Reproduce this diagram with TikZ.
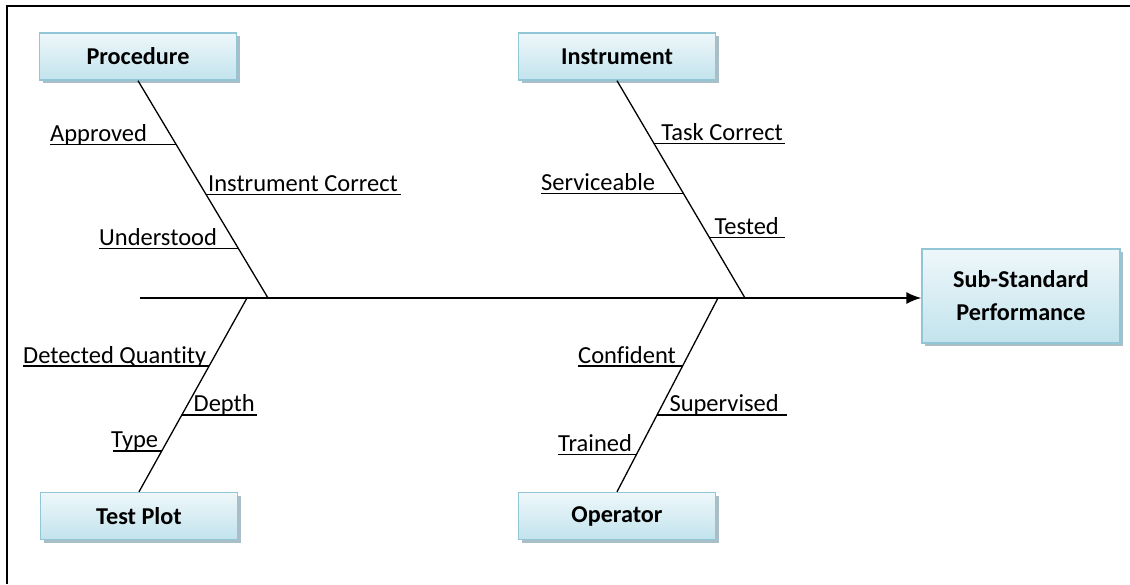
\documentclass[tikz,border=0pt]{standalone}
\usepackage{fontspec}
\setmainfont{Carlito}[Ligatures=NoCommon]
\usetikzlibrary{arrows.meta,shadows,calc}

\definecolor{boxtop}{HTML}{EEF7FA}
\definecolor{boxbot}{HTML}{C2E3ED}
\definecolor{boxline}{HTML}{92C6D6}
\definecolor{boxshade}{HTML}{A9BEC6}

\begin{document}
\begin{tikzpicture}[x=1pt,y=-1pt,
  causebox/.style={draw=boxline, line width=1.4pt, top color=boxtop, bottom color=boxbot,
    minimum width=197pt, minimum height=47pt, inner sep=0pt,
    font=\fontsize{24.2}{28}\selectfont\bfseries,
    drop shadow={shadow xshift=3pt, shadow yshift=-3pt, fill=boxshade, opacity=1}},
  effectbox/.style={causebox, minimum width=198pt, minimum height=94pt, align=center,
    font=\fontsize{24.2}{33}\selectfont\bfseries},
  spine/.style={line width=1.6pt, -{Latex[length=15pt,width=12pt]}},
  bone/.style={line width=1.3pt},
  twig/.style={line width=1.3pt},
  lab/.style={inner sep=0pt, font=\fontsize{24.5}{28}\selectfont}
]
\useasboundingbox (0,0) rectangle (1130,584);

% frame on the left and top
\draw[line width=2pt] (7,584) -- (7,6) -- (1130,6);

% category boxes and the effect
\node[causebox] (proc) at (138,56.5) {Procedure};
\node[causebox] (inst) at (617,56.5) {Instrument};
\node[causebox] (test) at (139,516) {Test Plot};
\node[causebox] (oper) at (617,516) {Operator};
\node[effectbox] (eff) at (1021,296) {Sub-Standard\\Performance};

% spine
\coordinate (tail) at (140,298);
\coordinate (pj) at (268,298);
\coordinate (ij) at (745,298);
\coordinate (tj) at (247,298);
\coordinate (oj) at (718,298);
\draw[spine] (tail) -- (tail -| eff.west);

% main bones
\draw[bone] (proc.south) -- (pj);
\draw[bone] (inst.south) -- (ij);
\draw[bone] (test.north) -- (tj);
\draw[bone] (oper.north) -- (oj);

% Procedure causes
\coordinate (p1) at ($(proc.south)!0.294!(pj)$);
\coordinate (p2) at ($(proc.south)!0.523!(pj)$);
\coordinate (p3) at ($(proc.south)!0.771!(pj)$);
\draw[twig] (p1) -- (p1 -| 50,0) coordinate (p1e);
\draw[twig] (p2) -- (p2 -| 401,0) coordinate (p2e);
\draw[twig] (p3) -- (p3 -| 99,0) coordinate (p3e);
\node[lab, anchor=base west] (lp1) at ([yshift=3pt]p1e) {Approved};
\node[lab, anchor=base east] (lp2) at ([xshift=-3pt,yshift=3pt]p2e) {Instrument Correct};
\node[lab, anchor=base west] (lp3) at ([yshift=3pt]p3e) {Understood};

% Instrument causes
\coordinate (i1) at ($(inst.south)!0.289!(ij)$);
\coordinate (i2) at ($(inst.south)!0.518!(ij)$);
\coordinate (i3) at ($(inst.south)!0.720!(ij)$);
\draw[twig] (i1) -- (i1 -| 785,0) coordinate (i1e);
\draw[twig] (i2) -- (i2 -| 541,0) coordinate (i2e);
\draw[twig] (i3) -- (i3 -| 785,0) coordinate (i3e);
\node[lab, anchor=base east] (li1) at ([xshift=-2pt,yshift=3pt]i1e) {Task Correct};
\node[lab, anchor=base west] (li2) at ([yshift=3pt]i2e) {Serviceable};
\node[lab, anchor=base east] (li3) at ([xshift=-6pt,yshift=3pt]i3e) {Tested};

% Test Plot causes
\coordinate (t1) at ($(test.north)!0.649!(tj)$);
\coordinate (t2) at ($(test.north)!0.397!(tj)$);
\coordinate (t3) at ($(test.north)!0.211!(tj)$);
\draw[twig] (t1) -- (t1 -| 23,0) coordinate (t1e);
\draw[twig] (t2) -- (t2 -| 257,0) coordinate (t2e);
\draw[twig] (t3) -- (t3 -| 113,0) coordinate (t3e);
\node[lab, anchor=base west] (lt1) at ([yshift=3pt]t1e) {Detected Quantity};
\node[lab, anchor=base east] (lt2) at ([xshift=-2pt,yshift=3pt]t2e) {Depth};
\node[lab, anchor=base west] (lt3) at ([xshift=-2pt,yshift=3pt]t3e) {Type};

% Operator causes
\coordinate (o1) at ($(oper.north)!0.649!(oj)$);
\coordinate (o2) at ($(oper.north)!0.397!(oj)$);
\coordinate (o3) at ($(oper.north)!0.191!(oj)$);
\draw[twig] (o1) -- (o1 -| 578,0) coordinate (o1e);
\draw[twig] (o2) -- (o2 -| 787,0) coordinate (o2e);
\draw[twig] (o3) -- (o3 -| 558,0) coordinate (o3e);
\node[lab, anchor=base west] (lo1) at ([yshift=3pt]o1e) {Confident};
\node[lab, anchor=base east] (lo2) at ([xshift=-8pt,yshift=3pt]o2e) {Supervised};
\node[lab, anchor=base west] (lo3) at ([yshift=3pt]o3e) {Trained};
\end{tikzpicture}
\end{document}
